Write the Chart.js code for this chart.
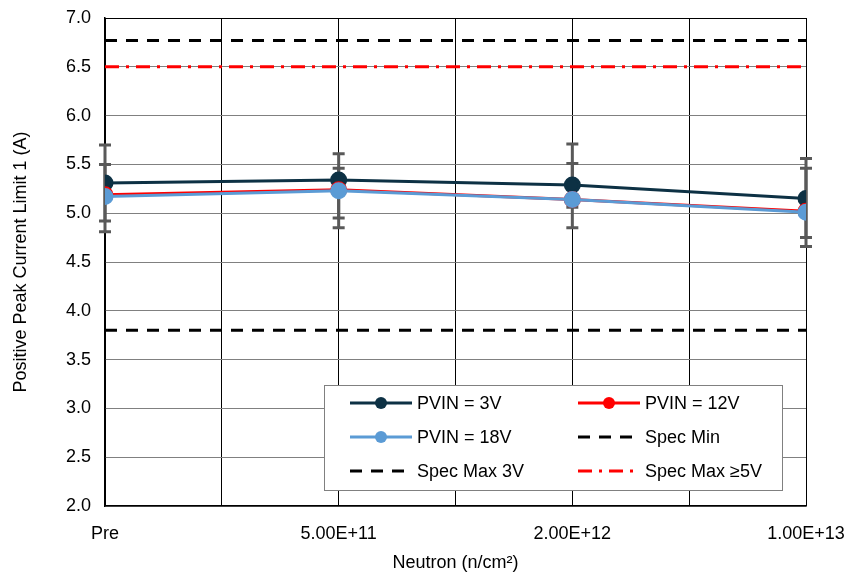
<!DOCTYPE html>
<html>
<head>
<meta charset="utf-8">
<script src="https://cdn.jsdelivr.net/npm/chart.js@4.4.1/dist/chart.umd.min.js"></script>
<style>
  html, body { margin: 0; padding: 0; background: #fff; }
  #wrap { width: 849px; height: 574px; }
</style>
</head>
<body>
<div id="wrap"><canvas id="chart" width="849" height="574"></canvas></div>
<script>
// categories along x
const categories = ['Pre', '5.00E+11', '2.00E+12', '1.00E+13'];

// series values (A)
const pvin3 = [5.31, 5.34, 5.29, 5.15];
const pvin12 = [5.19, 5.24, 5.14, 5.02];
const pvin18 = [5.17, 5.23, 5.14, 5.01];

// error bar ranges
const pvin3Low = [4.92, 4.95, 4.85, 4.75];
const pvin3High = [5.70, 5.61, 5.71, 5.56];
const pvin18Low = [4.81, 4.85, 5.06, 4.66];
const pvin18High = [5.50, 5.46, 5.51, 5.46];

// spec limits
const specMin = 3.8;
const specMax3V = 6.77;
const specMax5V = 6.5;

// y ticks
const yMin = 2.0;
const yMax = 7.0;
const yStep = 0.5;

const FONT = '"Liberation Sans", Arial, sans-serif';
const NAVY = '#0d3144';
const RED = '#ff0000';
const BLUE = '#5b9bd5';

const pts = vals => vals.map((v, i) => ({ x: i, y: v }));
const flat = v => [{ x: 0, y: v }, { x: categories.length - 1, y: v }];

const errorBars = [
  { low: pvin18Low, high: pvin18High },
  { low: pvin3Low, high: pvin3High }
];

const errorBarPlugin = {
  id: 'errorBars',
  beforeDatasetsDraw(chart) {
    const { ctx, scales: { x, y } } = chart;
    ctx.save();
    ctx.strokeStyle = '#595959';
    ctx.lineWidth = 3;
    errorBars.forEach(eb => {
      eb.low.forEach((lo, i) => {
        const px = x.getPixelForValue(i);
        const yl = y.getPixelForValue(lo);
        const yh = y.getPixelForValue(eb.high[i]);
        ctx.beginPath();
        ctx.moveTo(px, yl); ctx.lineTo(px, yh);
        ctx.moveTo(px - 6, yl); ctx.lineTo(px + 6, yl);
        ctx.moveTo(px - 6, yh); ctx.lineTo(px + 6, yh);
        ctx.stroke();
      });
    });
    ctx.restore();
  }
};

const legendPlugin = {
  id: 'boxLegend',
  afterDraw(chart) {
    const { ctx } = chart;
    const box = { x: 324, y: 385, w: 458, h: 105 };
    ctx.save();
    ctx.fillStyle = '#fff';
    ctx.fillRect(box.x, box.y, box.w, box.h);
    ctx.strokeStyle = '#808080';
    ctx.lineWidth = 1;
    ctx.strokeRect(box.x + 0.5, box.y + 0.5, box.w, box.h);
    const cols = [350, 578];
    const rows = [403, 437, 471];
    chart.data.datasets.forEach((ds, k) => {
      const lx = cols[k % 2];
      const ly = rows[Math.floor(k / 2)];
      ctx.beginPath();
      ctx.setLineDash(ds.borderDash || []);
      ctx.strokeStyle = ds.borderColor;
      ctx.lineWidth = 3;
      ctx.moveTo(lx, ly); ctx.lineTo(lx + 62, ly);
      ctx.stroke();
      ctx.setLineDash([]);
      if (ds.pointRadius > 0) {
        ctx.beginPath();
        ctx.fillStyle = ds.pointBackgroundColor;
        ctx.arc(lx + 31, ly, 6, 0, Math.PI * 2);
        ctx.fill();
      }
      ctx.fillStyle = '#000';
      ctx.font = '18px ' + FONT;
      ctx.textBaseline = 'middle';
      ctx.textAlign = 'left';
      ctx.fillText(ds.label, lx + 67, ly + 1);
    });
    ctx.restore();
  }
};

const lineSeries = (label, vals, color) => ({
  label,
  data: pts(vals),
  borderColor: color,
  backgroundColor: color,
  pointBackgroundColor: color,
  pointBorderColor: color,
  borderWidth: 3,
  pointRadius: 7,
  pointHoverRadius: 7,
  tension: 0
});

const specSeries = (label, v, color, dash) => ({
  label,
  data: flat(v),
  borderColor: color,
  backgroundColor: color,
  borderWidth: 3,
  borderDash: dash,
  pointRadius: 0,
  tension: 0
});

const datasets = [
  lineSeries('PVIN = 3V', pvin3, NAVY),
  lineSeries('PVIN = 12V', pvin12, RED),
  lineSeries('PVIN = 18V', pvin18, BLUE),
  specSeries('Spec Min', specMin, '#000', [12, 9]),
  specSeries('Spec Max 3V', specMax3V, '#000', [12, 9]),
  specSeries('Spec Max \u22655V', specMax5V, RED, [14, 7, 3, 7])
];
// draw order: spec lines under, 3V, 12V, 18V on top
datasets.forEach((d, i) => { d.order = i < 3 ? 3 - i : 10; });

new Chart(document.getElementById('chart'), {
  type: 'line',
  data: { datasets },
  plugins: [errorBarPlugin, legendPlugin],
  options: {
    responsive: false,
    animation: false,
    layout: { padding: { top: 18, right: 43, left: 0, bottom: 0 } },
    plugins: { legend: { display: false }, tooltip: { enabled: false } },
    scales: {
      x: {
        type: 'linear',
        min: 0,
        max: categories.length - 1,
        afterFit(scale) {
          scale.height = 68;
          scale.paddingLeft = 0;
          scale.paddingRight = 0;
        },
        afterBuildTicks(scale) {
          const t = [];
          for (let v = 0; v <= categories.length - 1 + 1e-9; v += 0.5) t.push({ value: v });
          scale.ticks = t;
        },
        grid: { color: '#000', lineWidth: 1, drawTicks: false },
        border: { color: '#000', width: 1.5 },
        ticks: {
          autoSkip: false,
          maxRotation: 0,
          padding: 17,
          color: '#000',
          font: { family: FONT, size: 18 },
          callback: v => Number.isInteger(v) ? categories[v] : ''
        },
        title: {
          display: true,
          text: 'Neutron (n/cm\u00B2)',
          color: '#000',
          font: { family: FONT, size: 18 },
          padding: { top: 2, bottom: 0 }
        }
      },
      y: {
        min: yMin,
        max: yMax,
        afterFit(scale) {
          scale.width = 105;
          scale.paddingTop = 0;
          scale.paddingBottom = 0;
        },
        grid: {
          color: ctx => ctx.tick && ctx.tick.value === yMax ? '#000' : '#808080',
          lineWidth: 1,
          drawTicks: false
        },
        border: { color: '#000', width: 1.5 },
        ticks: {
          stepSize: yStep,
          padding: 14,
          color: '#000',
          font: { family: FONT, size: 18 },
          callback: v => v.toFixed(1)
        },
        title: {
          display: true,
          text: 'Positive Peak Current Limit 1 (A)',
          color: '#000',
          font: { family: FONT, size: 18 },
          padding: { top: 10, bottom: 6 }
        }
      }
    }
  }
});
</script>
</body>
</html>
